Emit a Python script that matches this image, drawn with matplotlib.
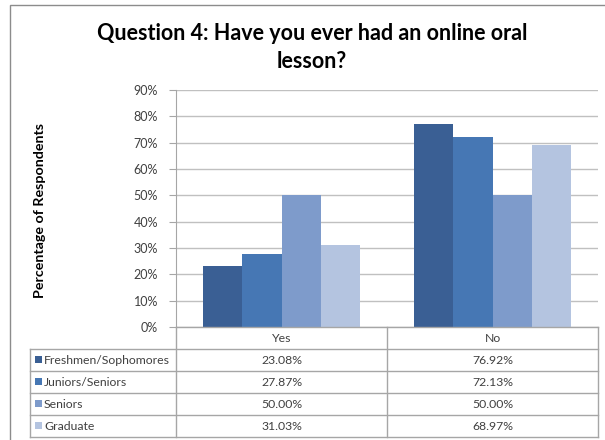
import matplotlib.pyplot as plt
import numpy as np

# survey answers, share of respondents per class standing
answers = ['Yes', 'No']
groups = ['Freshmen/Sophomores', 'Juniors/Seniors', 'Seniors', 'Graduate']
freshmen = [23.08, 76.92]
juniors = [27.87, 72.13]
seniors = [50.00, 50.00]
graduate = [31.03, 68.97]
yticks = [0, 10, 20, 30, 40, 50, 60, 70, 80, 90]

colors = ['#3A5F94', '#4677B4', '#7E9BCB', '#B4C4E0']
series = [freshmen, juniors, seniors, graduate]

W, H = 605, 440
fig = plt.figure(figsize=(W / 100, H / 100), dpi=100)
fig.patch.set_facecolor('white')
plt.rcParams['font.family'] = ['Lato', 'DejaVu Sans']
txt = '#404040'


def fx(px):
    return px / W


def fy(py):
    return 1 - py / H


# outer chart frame
frame = plt.Rectangle((fx(10), fy(445)), fx(620) - fx(10), fy(5) - fy(445),
                      transform=fig.transFigure, fill=False, ec='#8C8C8C', lw=1)
fig.add_artist(frame)

fig.text(fx(312), fy(33), 'Question 4: Have you ever had an online oral',
         ha='center', va='center', fontsize=15.5, fontweight='bold', color='black')
fig.text(fx(312), fy(61), 'lesson?',
         ha='center', va='center', fontsize=15.5, fontweight='bold', color='black')
fig.text(fx(40), fy(210), 'Percentage of Respondents', rotation=90,
         ha='center', va='center', fontsize=10.3, fontweight='bold', color='black')

# plot area
left, right, top, bottom = 176, 598, 90, 327
ax = fig.add_axes([fx(left), fy(bottom), fx(right) - fx(left), fy(top) - fy(bottom)])
bw = 0.185
pos = np.arange(len(answers)) + 0.5
for i, (vals, c) in enumerate(zip(series, colors)):
    ax.bar(pos + (i - 1.5) * bw, vals, width=bw, color=c, zorder=3, lw=0)
ax.set_xlim(0, 2)
ax.set_ylim(0, 90)
ax.set_yticks(yticks)
ax.set_yticklabels([f'{t}%' for t in yticks], fontsize=9, color=txt)
ax.set_xticks([])
ax.yaxis.grid(True, color='#C0C0C0', lw=1, zorder=0)
for s in ['top', 'right', 'bottom']:
    ax.spines[s].set_visible(False)
ax.spines['left'].set_color('#A6A6A6')
ax.tick_params(axis='y', length=5, color='#A6A6A6', pad=8)

# data table below the plot
tx = fig.add_axes([0, 0, 1, 1], facecolor='none')
tx.set_xlim(0, W)
tx.set_ylim(H, 0)
tx.axis('off')
rows = [327, 349, 371, 393, 415, 437]
mid = 387
lc = '#A6A6A6'
tx.plot([left, left], [rows[0], rows[-1]], color=lc, lw=1)
tx.plot([mid, mid], [rows[0], rows[-1]], color=lc, lw=1)
tx.plot([right, right], [rows[0], rows[-1]], color=lc, lw=1)
tx.plot([30, 30], [rows[1], rows[-1]], color=lc, lw=1)
tx.plot([left, right], [rows[0], rows[0]], color=lc, lw=1)
for r in rows[1:]:
    tx.plot([30, right], [r, r], color=lc, lw=1)

cx = [(left + mid) / 2, (mid + right) / 2]
for j, a in enumerate(answers):
    tx.text(cx[j], (rows[0] + rows[1]) / 2, a, ha='center', va='center',
            fontsize=8.8, color=txt)
for i, (g, vals, c) in enumerate(zip(groups, series, colors)):
    yc = (rows[i + 1] + rows[i + 2]) / 2
    tx.add_patch(plt.Rectangle((35, yc - 3.5), 7, 7, color=c, lw=0))
    tx.text(44, yc, g, ha='left', va='center', fontsize=8.8, color=txt)
    for j, v in enumerate(vals):
        tx.text(cx[j], yc, f'{v:.2f}%', ha='center', va='center',
                fontsize=8.8, color=txt)

fig.savefig('out.png', dpi=100)
